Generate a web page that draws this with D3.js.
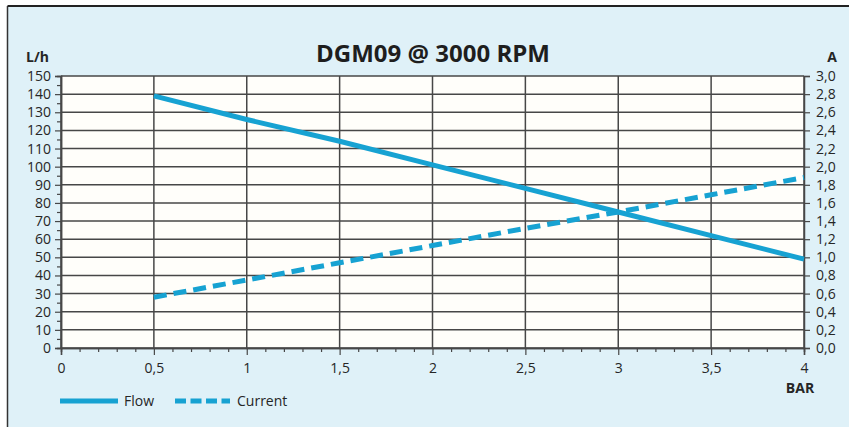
<!DOCTYPE html>
<html><head><meta charset="utf-8">
<script src="https://cdn.jsdelivr.net/npm/d3@7"></script>
<style>
html,body{margin:0;padding:0;background:#fff;}
svg{display:block;font-family:"Open Sans",sans-serif;}
</style></head><body>
<svg id="chart" width="849" height="427"></svg>
<script>
const pressure = [0.5, 1, 1.5, 2, 2.5, 3, 3.5, 4];
const flow = [139, 126, 114, 101, 88, 75, 62, 49];
const current = [0.56, 0.75, 0.94, 1.13, 1.32, 1.50, 1.69, 1.88];
const xTicks = [0, 0.5, 1, 1.5, 2, 2.5, 3, 3.5, 4];
const yLeftTicks = [0,10,20,30,40,50,60,70,80,90,100,110,120,130,140,150];
const yRightTicks = [0,0.2,0.4,0.6,0.8,1.0,1.2,1.4,1.6,1.8,2.0,2.2,2.4,2.6,2.8,3.0];
const title = "DGM09 @ 3000 RPM";
const seriesNames = ["Flow", "Current"];

const svg = d3.select("#chart");
const W = 849, H = 427;
const x = d3.scaleLinear().domain([0,4]).range([61,804]);
const yL = d3.scaleLinear().domain([0,150]).range([348,76]);
const yR = d3.scaleLinear().domain([0,3]).range([348,76]);
const lineColor = "#17a2d2";
const gridColor = "#474747";
const textColor = "#262626";

// panel
svg.append("rect").attr("x",8).attr("y",6).attr("width",W-8).attr("height",H-6).attr("fill","#dff1f8");
svg.append("line").attr("x1",7.5).attr("x2",W).attr("y1",6).attr("y2",6).attr("stroke","#222").attr("stroke-width",2);
svg.append("line").attr("x1",7.5).attr("x2",7.5).attr("y1",6).attr("y2",H).attr("stroke","#333").attr("stroke-width",1.5);

// plot area
svg.append("rect").attr("x",x(0)).attr("y",yL(150)).attr("width",x(4)-x(0)).attr("height",yL(0)-yL(150)).attr("fill","#fffefa");

// grid
const g = svg.append("g");
g.selectAll(".hg").data(yLeftTicks).join("line")
  .attr("x1",x(0)).attr("x2",x(4)).attr("y1",d=>yL(d)).attr("y2",d=>yL(d))
  .attr("stroke",gridColor).attr("stroke-width",1.5);
g.selectAll(".vg").data(xTicks).join("line")
  .attr("x1",d=>x(d)).attr("x2",d=>x(d)).attr("y1",yL(150)).attr("y2",yL(0))
  .attr("stroke",gridColor).attr("stroke-width",1.5);

// left axis
const fmtL = d3.format("d");
const axL = d3.axisLeft(yL).tickValues(yLeftTicks).tickSize(6).tickPadding(4).tickFormat(fmtL);
svg.append("g").attr("transform",`translate(${x(0)},0)`).call(axL);
const axLm = d3.axisLeft(yL).tickValues(d3.range(5,150,10)).tickSize(4).tickFormat("");
svg.append("g").attr("transform",`translate(${x(0)},0)`).call(axLm);

// right axis
const fmtR = d => d3.format(".1f")(d).replace(".",",");
const axR = d3.axisRight(yR).tickValues(yRightTicks).tickSize(6).tickPadding(6).tickFormat(fmtR);
svg.append("g").attr("transform",`translate(${x(4)},0)`).call(axR);

// bottom axis
const fmtX = d => String(d).replace(".",",");
const axB = d3.axisBottom(x).tickValues(xTicks).tickSize(7).tickPadding(8).tickFormat(fmtX);
svg.append("g").attr("transform",`translate(0,${yL(0)})`).call(axB);
const axBm = d3.axisBottom(x).tickValues(d3.range(0,41).filter(i=>i%5!==0).map(i=>i/10)).tickSize(4).tickFormat("");
svg.append("g").attr("transform",`translate(0,${yL(0)})`).call(axBm);

svg.selectAll(".domain").attr("stroke",gridColor).attr("stroke-width",1.5);
svg.selectAll(".tick line").attr("stroke",gridColor).attr("stroke-width",1.2);
svg.selectAll(".tick text").attr("fill",textColor).attr("font-size",14).attr("font-family","'Open Sans',sans-serif");

// series
const data = pressure.map((p,i)=>({p, f:flow[i], c:current[i]}));
svg.append("path").datum(data)
  .attr("d", d3.line().x(d=>x(d.p)).y(d=>yL(d.f)))
  .attr("fill","none").attr("stroke",lineColor).attr("stroke-width",5);
svg.append("path").datum(data)
  .attr("d", d3.line().x(d=>x(d.p)).y(d=>yR(d.c)))
  .attr("fill","none").attr("stroke",lineColor).attr("stroke-width",5).attr("stroke-dasharray","13,7");

// titles
svg.append("text").attr("x",433).attr("y",62).attr("text-anchor","middle")
  .attr("font-size",24).attr("font-weight",700).attr("fill","#1e1e1e").text(title);
svg.append("text").attr("x",26).attr("y",62).attr("font-size",14).attr("font-weight",700).attr("fill",textColor).text("L/h");
svg.append("text").attr("x",832).attr("y",62).attr("text-anchor","middle").attr("font-size",14).attr("font-weight",700).attr("fill",textColor).text("A");
svg.append("text").attr("x",800).attr("y",393).attr("text-anchor","middle").attr("font-size",14).attr("font-weight",700).attr("fill",textColor).text("BAR");

// legend
const lg = svg.append("g");
lg.append("line").attr("x1",60).attr("x2",118).attr("y1",401).attr("y2",401).attr("stroke",lineColor).attr("stroke-width",5);
lg.append("text").attr("x",124).attr("y",406).attr("font-size",14).attr("fill",textColor).text(seriesNames[0]);
lg.append("line").attr("x1",175).attr("x2",230).attr("y1",401).attr("y2",401).attr("stroke",lineColor).attr("stroke-width",5).attr("stroke-dasharray","11,4.5");
lg.append("text").attr("x",237).attr("y",406).attr("font-size",14).attr("fill",textColor).text(seriesNames[1]);
</script>
</body></html>
